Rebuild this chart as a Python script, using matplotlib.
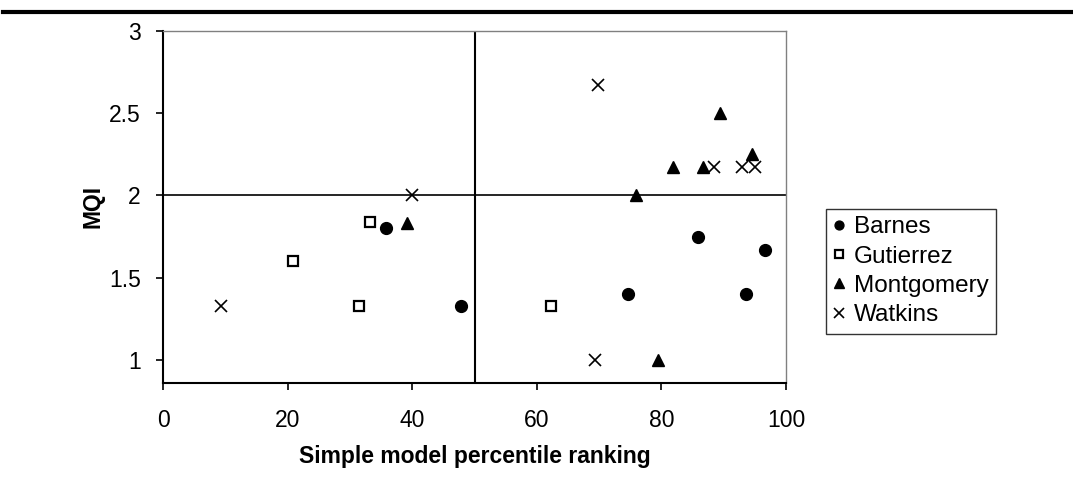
import numpy as np
import matplotlib.pyplot as plt
from matplotlib.lines import Line2D

plt.rcParams['font.family'] = ['Liberation Sans', 'DejaVu Sans']

# Data
barnes_x = [35.8, 47.9, 74.6, 85.8, 93.6, 96.6]
barnes_y = [1.80, 1.33, 1.40, 1.75, 1.40, 1.67]

gutierrez_x = [20.9, 31.5, 33.2, 62.2]
gutierrez_y = [1.60, 1.33, 1.84, 1.33]

montgomery_x = [39.2, 76.0, 79.5, 81.8, 86.6, 89.4, 94.6]
montgomery_y = [1.83, 2.00, 1.00, 2.17, 2.17, 2.50, 2.25]

watkins_x = [9.3, 40.0, 69.3, 69.9, 88.5, 92.9, 95.0]
watkins_y = [1.33, 2.00, 1.00, 2.67, 2.17, 2.17, 2.17]

x_ticks = [0, 20, 40, 60, 80, 100]
y_ticks = [1, 1.5, 2, 2.5, 3]
y_tick_labels = ["1", "1.5", "2", "2.5", "3"]

fig = plt.figure(figsize=(10.73, 4.98), dpi=100)
ax = fig.add_axes([0.152, 0.231, 0.5805, 0.707])

ax.plot(barnes_x, barnes_y, 'o', color='black', ms=8.5, label='Barnes')
ax.plot(gutierrez_x, gutierrez_y, 's', mfc='white', mec='black', mew=1.6, ms=7.5, label='Gutierrez')
ax.plot(montgomery_x, montgomery_y, '^', color='black', ms=9, label='Montgomery')
ax.plot(watkins_x, watkins_y, 'x', color='black', mew=1.2, ms=9, label='Watkins')

# quadrant lines
ax.axhline(2, color='black', lw=1.2, zorder=1)
ax.axvline(50, color='black', lw=1.5, zorder=1)

ax.set_xlim(0, 100)
ax.set_ylim(0.86, 3)
ax.set_xticks(x_ticks)
ax.set_yticks(y_ticks)
ax.set_yticklabels(y_tick_labels)
ax.tick_params(axis='both', direction='out', length=5, width=1.2, labelsize=16.5)
ax.tick_params(axis='x', pad=14)
ax.tick_params(axis='y', pad=11)

for s in ['left', 'bottom']:
    ax.spines[s].set_linewidth(1.5)
    ax.spines[s].set_color('black')
for s in ['top', 'right']:
    ax.spines[s].set_linewidth(1.0)
    ax.spines[s].set_color('#808080')

ax.set_xlabel("Simple model percentile ranking", fontsize=16.5, fontweight='bold', labelpad=9)
ax.set_ylabel("MQI", fontsize=16.5, fontweight='bold', labelpad=3)

leg = ax.legend(loc='upper left', bbox_to_anchor=(1.064, 0.494), fontsize=17.5, frameon=True,
                fancybox=False, edgecolor='black', handlelength=0.5, handletextpad=0.35,
                markerscale=0.75, borderpad=0.3, labelspacing=0.3, borderaxespad=0)
leg.get_frame().set_linewidth(1.0)

# thick rule at top of the page
fig.add_artist(Line2D([0.003, 1.0], [0.976, 0.976], color='black', lw=3, transform=fig.transFigure))

fig.savefig("out.png", dpi=100)
